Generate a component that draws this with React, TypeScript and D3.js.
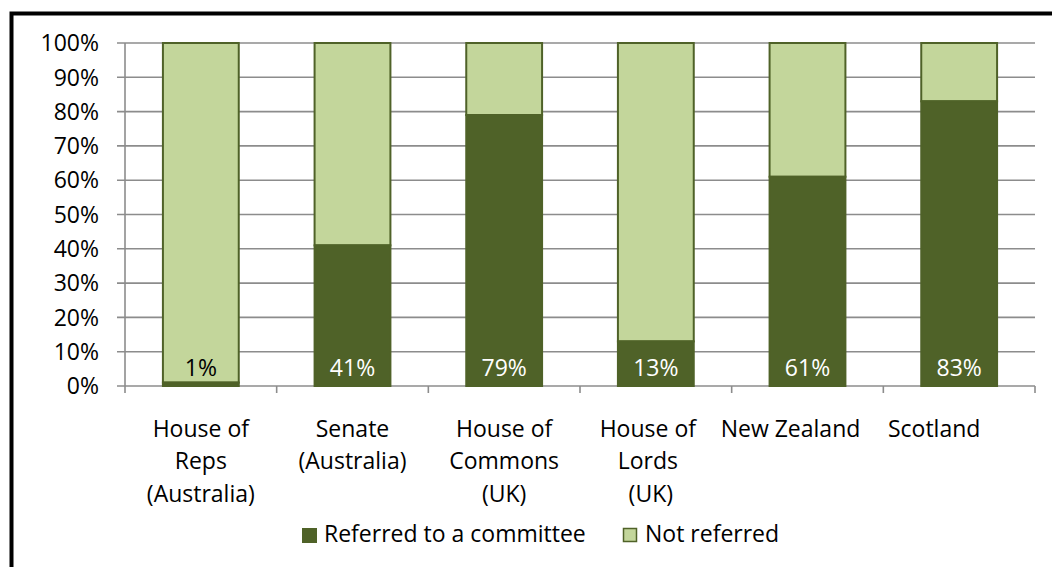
import React from "react";
import * as d3 from "d3";

// Share of bills referred to a committee, by chamber
const categories: string[][] = [
  ["House of", "Reps", "(Australia)"],
  ["Senate", "(Australia)"],
  ["House of", "Commons", "(UK)"],
  ["House of", "Lords", " (UK)"],
  ["New Zealand"],
  ["Scotland"],
];
const referred: number[] = [1, 41, 79, 13, 61, 83];
const yTicks: number[] = [0, 10, 20, 30, 40, 50, 60, 70, 80, 90, 100];
const seriesNames: string[] = ["Referred to a committee", "Not referred"];

const W = 1052;
const H = 567;
const DARK = "#4F6228";
const LIGHT = "#C3D69B";
const GRID = "#8C8C8C";
const FONT = "'Open Sans', sans-serif";
const FS = 23;

// slight horizontal shift Excel applied to some wrapped category labels
const labelShift = [0, 0, 0, -8, -17, -25];

export default function App() {
  const left = 125;
  const right = 1035;
  const top = 43;
  const bottom = 386;

  const x = d3
    .scaleBand<number>()
    .domain(d3.range(categories.length))
    .range([left, right])
    .paddingInner(1 / 2)
    .paddingOuter(1 / 4);
  const y = d3.scaleLinear().domain([0, 100]).range([bottom, top]);
  const step = x.step();

  return (
    <svg
      width={W}
      height={H}
      style={{ position: "absolute", left: 0, top: 0, background: "#fff" }}
      fontFamily={FONT}
    >
      <rect x={0} y={0} width={W} height={H} fill="#fff" />
      {/* chart frame */}
      <rect x={11.5} y={13.5} width={W + 20} height={H + 20} fill="none" stroke="#000" strokeWidth={4} />

      {/* gridlines */}
      {yTicks.map((t) => (
        <line key={"g" + t} x1={left - 8} x2={right} y1={y(t)} y2={y(t)} stroke={GRID} strokeWidth={1.6} />
      ))}
      {/* y axis */}
      <line x1={left} x2={left} y1={top} y2={bottom} stroke={GRID} strokeWidth={1.6} />
      {yTicks.map((t) => (
        <text key={"yl" + t} x={99} y={y(t)} dy="0.36em" textAnchor="end" fontSize={FS} fill="#000">
          {t}%
        </text>
      ))}

      {/* x category ticks */}
      {d3.range(categories.length + 1).map((i) => (
        <line
          key={"xt" + i}
          x1={left + i * step}
          x2={left + i * step}
          y1={bottom}
          y2={bottom + 7}
          stroke={GRID}
          strokeWidth={1.6}
        />
      ))}

      {/* stacked bars */}
      {referred.map((v, i) => (
        <g key={"b" + i}>
          <rect
            x={x(i)!}
            width={x.bandwidth()}
            y={y(100)}
            height={y(v) - y(100)}
            fill={LIGHT}
            stroke={DARK}
            strokeWidth={2}
          />
          <rect
            x={x(i)!}
            width={x.bandwidth()}
            y={y(v)}
            height={y(0) - y(v)}
            fill={DARK}
            stroke={DARK}
            strokeWidth={2}
          />
        </g>
      ))}

      {/* value labels at the base of each bar */}
      {referred.map((v, i) => (
        <text
          key={"v" + i}
          x={x(i)! + x.bandwidth() / 2}
          y={376}
          textAnchor="middle"
          fontSize={FS}
          fill={v < 5 ? "#000" : "#fff"}
        >
          {v}%
        </text>
      ))}

      {/* category labels */}
      {categories.map((lines, i) => (
        <text
          key={"c" + i}
          x={x(i)! + x.bandwidth() / 2 + labelShift[i]}
          y={437}
          textAnchor="middle"
          fontSize={FS}
          fill="#000"
          style={{ whiteSpace: "pre" }}
        >
          {lines.map((l, j) => (
            <tspan key={j} x={x(i)! + x.bandwidth() / 2 + labelShift[i]} dy={j === 0 ? 0 : 32.3}>
              {l}
            </tspan>
          ))}
        </text>
      ))}

      {/* legend */}
      <rect x={302.5} y={528.5} width={14} height={14} fill={DARK} stroke={DARK} />
      <text x={324} y={542} fontSize={FS} fill="#000">
        {seriesNames[0]}
      </text>
      <rect x={623.5} y={528.5} width={13} height={13} fill={LIGHT} stroke={DARK} strokeWidth={1.5} />
      <text x={645} y={542} fontSize={FS} fill="#000">
        {seriesNames[1]}
      </text>
    </svg>
  );
}
